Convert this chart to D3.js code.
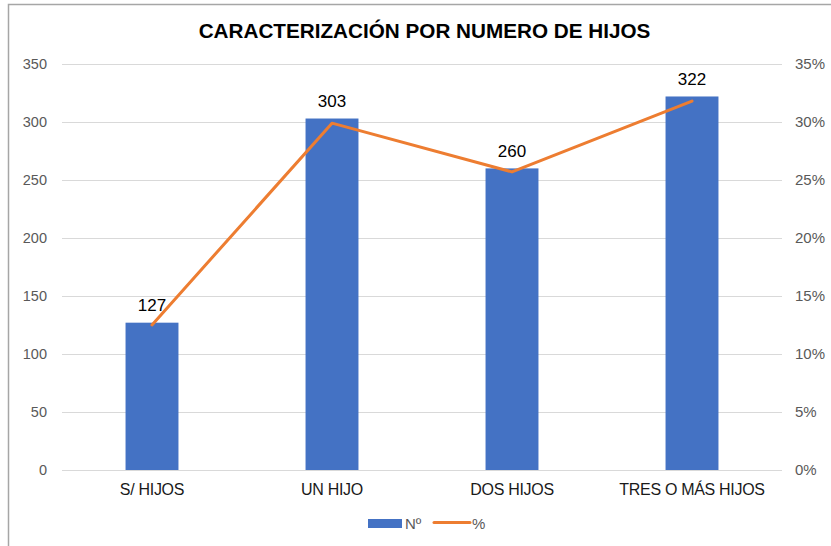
<!DOCTYPE html>
<html><head><meta charset="utf-8">
<script src="https://cdn.jsdelivr.net/npm/d3@7"></script>
<style>body{margin:0;background:#fff}svg{display:block}text{font-family:"Liberation Sans",Arial,sans-serif}</style>
</head><body><svg id="c" width="831" height="546"></svg>
<script>
const categories = ["S/ HIJOS", "UN HIJO", "DOS HIJOS", "TRES O MÁS HIJOS"];
const counts = [127, 303, 260, 322];
const percents = [12.5, 29.9, 25.7, 31.8];
const leftTicks = [0, 50, 100, 150, 200, 250, 300, 350];
const rightTicks = [0, 5, 10, 15, 20, 25, 30, 35];
const title = "CARACTERIZACIÓN POR NUMERO DE HIJOS";
const legendLabels = ["Nº", "%"];

const FONT = "Liberation Sans, Arial, sans-serif";
const svg = d3.select("#c");
const m = {l: 62, r: 782, t: 64, b: 470};
svg.append("rect").attr("x", 8.5).attr("y", 4.5).attr("width", 900).attr("height", 600)
  .attr("fill", "none").attr("stroke", "#a6a6a6").attr("stroke-width", 1.5);

const x = d3.scaleBand().domain(categories).range([m.l, m.r]).paddingInner(0.706).paddingOuter(0.353);
const y = d3.scaleLinear().domain([0, 350]).range([m.b, m.t]);
const y2 = d3.scaleLinear().domain([0, 35]).range([m.b, m.t]);
const xc = d => x(d) + x.bandwidth() / 2;

// gridlines
svg.append("g").selectAll("line").data(leftTicks).join("line")
  .attr("x1", m.l).attr("x2", m.r).attr("y1", d => Math.round(y(d)) + 0.5).attr("y2", d => Math.round(y(d)) + 0.5)
  .attr("stroke", "#d9d9d9").attr("stroke-width", 1);

// left axis
const ax = svg.append("g").attr("transform", `translate(${m.l - 15},0)`)
  .call(d3.axisLeft(y).tickValues(leftTicks).tickSize(0).tickPadding(0));
ax.select(".domain").remove();
ax.selectAll("text").attr("font-size", 14.5).attr("fill", "#595959").attr("font-family", FONT);

// right axis
const ax2 = svg.append("g").attr("transform", `translate(${m.r + 13},0)`)
  .call(d3.axisRight(y2).tickValues(rightTicks).tickSize(0).tickPadding(0).tickFormat(d => d + "%"));
ax2.select(".domain").remove();
ax2.selectAll("text").attr("font-size", 15).attr("fill", "#595959").attr("font-family", FONT);

// bars
svg.append("g").selectAll("rect").data(counts).join("rect")
  .attr("x", (d, i) => x(categories[i])).attr("width", x.bandwidth())
  .attr("y", d => y(d)).attr("height", d => y(0) - y(d)).attr("fill", "#4472c4");

// x axis labels
const axb = svg.append("g").attr("transform", `translate(0,${m.b + 9})`)
  .call(d3.axisBottom(x).tickSize(0).tickPadding(5));
axb.select(".domain").remove();
axb.selectAll("text").attr("font-size", 16).attr("letter-spacing", -0.3).attr("fill", "#1a1a1a").attr("font-family", FONT);

// line
const line = d3.line().x((d, i) => xc(categories[i])).y(d => y2(d));
svg.append("path").datum(percents).attr("d", line).attr("fill", "none")
  .attr("stroke", "#ed7d31").attr("stroke-width", 3).attr("stroke-linejoin", "round").attr("stroke-linecap", "round");

// data labels
svg.append("g").selectAll("text").data(counts).join("text")
  .attr("x", (d, i) => xc(categories[i])).attr("y", d => y(d) - 11.5)
  .attr("text-anchor", "middle").attr("font-size", 17).attr("fill", "#000").text(d => d);

// title
svg.append("text").attr("x", 424.5).attr("y", 38).attr("text-anchor", "middle")
  .attr("font-size", 20.7).attr("font-weight", "bold").attr("fill", "#000").text(title);

// legend
const lg = svg.append("g");
lg.append("rect").attr("x", 368).attr("y", 519).attr("width", 34).attr("height", 9).attr("fill", "#4472c4");
lg.append("text").attr("x", 405).attr("y", 528.5).attr("font-size", 15).attr("fill", "#595959").text(legendLabels[0]);
lg.append("line").attr("x1", 434).attr("x2", 470).attr("y1", 522.5).attr("y2", 522.5).attr("stroke", "#ed7d31").attr("stroke-width", 3).attr("stroke-linecap", "round");
lg.append("text").attr("x", 472).attr("y", 528.5).attr("font-size", 15).attr("fill", "#595959").text(legendLabels[1]);
</script></body></html>
